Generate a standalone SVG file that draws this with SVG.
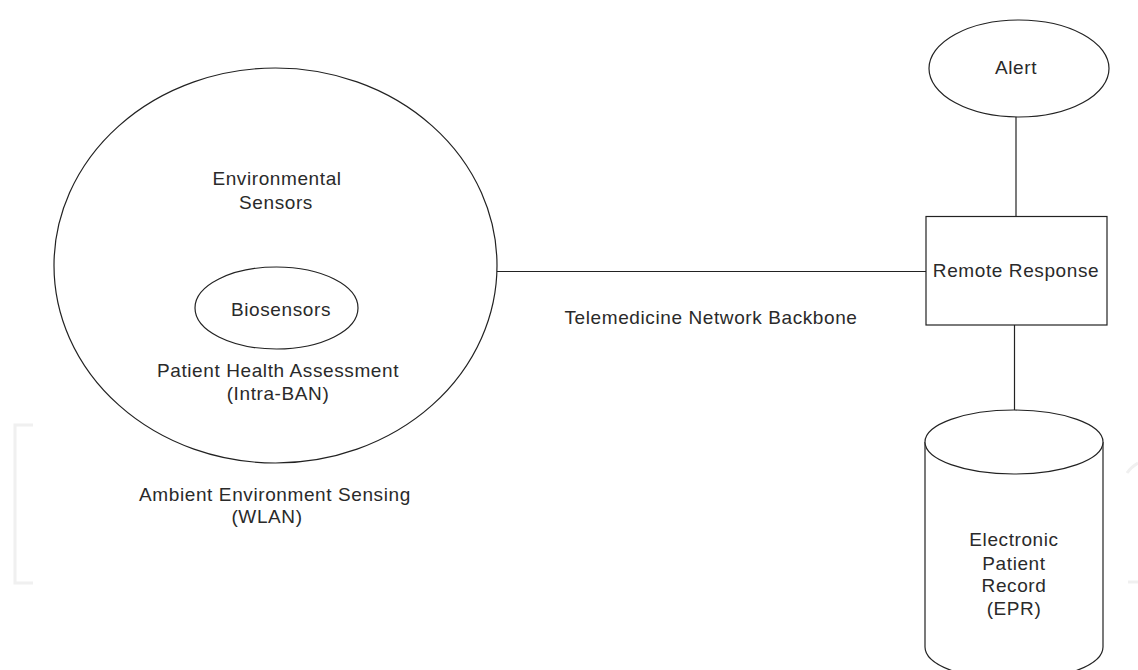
<svg xmlns="http://www.w3.org/2000/svg" width="1138" height="670" viewBox="0 0 1138 670">
<style>
.s{fill:none;stroke:#222;stroke-width:1.2}
.w{fill:#fff;stroke:#222;stroke-width:1.2}
.t{font-family:"Liberation Sans",Arial,sans-serif;font-size:19px;letter-spacing:0.6px;fill:#2a2a2a;text-anchor:middle}
.wm{fill:none;stroke:#f0f0f0;stroke-width:3}
</style>
<rect width="1138" height="670" fill="#fff"/>
<g id="watermark">
<path class="wm" d="M33,425 H15 V583 H33"/>
<path class="wm" d="M1127,473 Q1131,467 1138,463"/>
<path class="wm" d="M1128,582 H1138"/>
</g>
<g id="connectors">
<line class="s" x1="497" y1="271.5" x2="926" y2="271.5"/>
<line class="s" x1="1016" y1="117" x2="1016" y2="216"/>
<line class="s" x1="1014.5" y1="325" x2="1014.5" y2="410"/>
</g>
<g id="wlan">
<ellipse class="s" cx="275.5" cy="265.5" rx="221.5" ry="197.5"/>
<text class="t" x="277" y="185">Environmental</text>
<text class="t" x="276" y="209">Sensors</text>
<text class="t" x="278" y="377">Patient Health Assessment</text>
<text class="t" x="278" y="400">(Intra-BAN)</text>
</g>
<g id="biosensors">
<ellipse class="s" cx="276.5" cy="308" rx="81.5" ry="41"/>
<text class="t" x="281" y="316">Biosensors</text>
</g>
<g id="wlan-label">
<text class="t" x="275" y="501">Ambient Environment Sensing</text>
<text class="t" x="267" y="523">(WLAN)</text>
</g>
<g id="backbone-label">
<text class="t" x="711" y="324">Telemedicine Network Backbone</text>
</g>
<g id="alert">
<ellipse class="s" cx="1019" cy="68.5" rx="90" ry="48.5"/>
<text class="t" x="1016" y="74">Alert</text>
</g>
<g id="remote-response">
<rect class="s" x="926" y="216.5" width="181" height="108.5"/>
<text class="t" x="1016" y="277">Remote Response</text>
</g>
<g id="epr">
<path class="w" d="M925,442 V647 A89,33 0 0 0 1103,647 V442"/>
<ellipse class="w" cx="1014" cy="442" rx="89" ry="32"/>
<text class="t" x="1014" y="546">Electronic</text>
<text class="t" x="1014" y="570">Patient</text>
<text class="t" x="1014" y="592">Record</text>
<text class="t" x="1014" y="615">(EPR)</text>
</g>
</svg>
